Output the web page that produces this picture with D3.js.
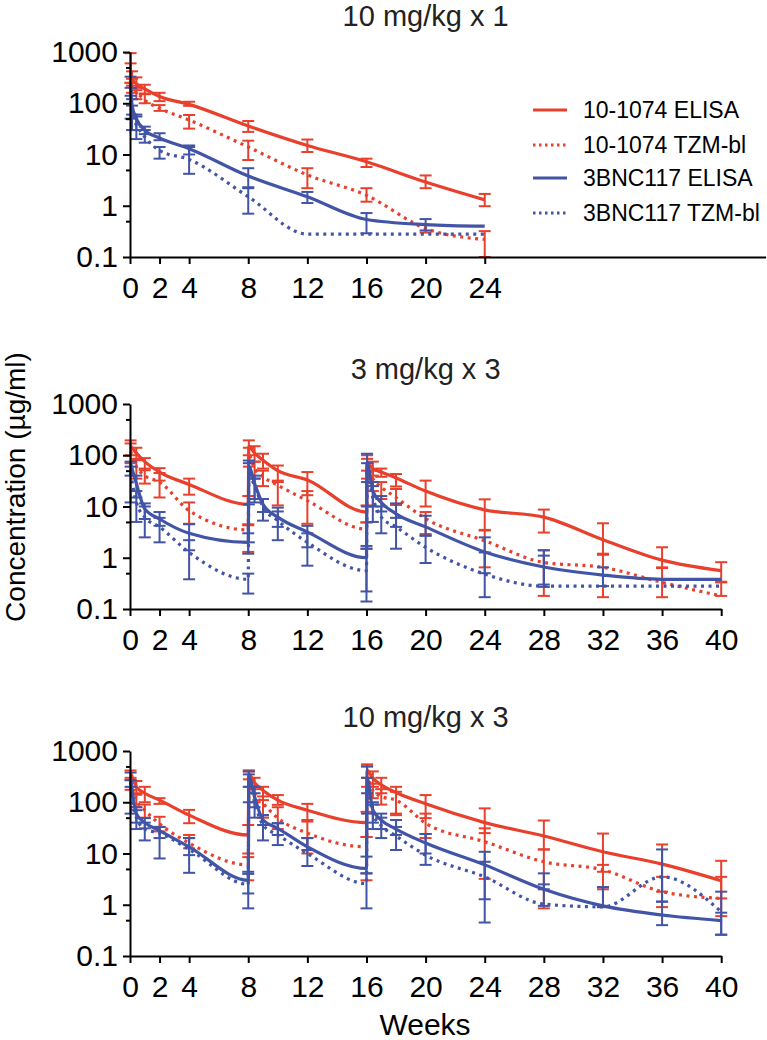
<!DOCTYPE html>
<html>
<head>
<meta charset="utf-8">
<script src="https://cdn.jsdelivr.net/npm/d3@7"></script>
<style>
  body { margin: 0; background: #fff; }
  text { font-family: 'Liberation Sans', Arial, sans-serif; }
</style>
</head>
<body>
<svg id="chart" width="767" height="1040"></svg>
<script>
// ---- data (ug/ml) ----
const seriesNames = ['10-1074 ELISA', '10-1074 TZM-bl', '3BNC117 ELISA', '3BNC117 TZM-bl'];
const panelTitles = ['10 mg/kg x 1', '3 mg/kg x 3', '10 mg/kg x 3'];

const weeksSingle = [0.04, 0.14, 0.43, 1, 2, 4, 8, 12, 16, 20, 24];
const weeksTriple = [0.04, 0.43, 1, 2, 4, 8, 8.04, 8.43, 9, 10, 12, 16, 16.04, 16.43, 17, 18, 20, 24, 28, 32, 36, 40];
const ticksSingle = [0, 2, 4, 8, 12, 16, 20, 24];
const ticksTriple = [0, 2, 4, 8, 12, 16, 20, 24, 28, 32, 36, 40];
const yTicks = [0.1, 1, 10, 100, 1000];
const yMinorTicks = [0.5, 5, 50, 500];

// 10 mg/kg x 1
const single1074Elisa   = [450, 300, 240, 190, 135, 95, 36, 15, 7.2, 2.9, 1.3];
const single1074ElisaLo = [250, 220, 180, 150, 110, 89, 27.6, 11.2, 5.7, 2.2, 0.98];
const single1074ElisaHi = [950, 420, 320, 230, 160, 107, 45, 19.6, 8.3, 3.9, 1.7];
const single1074Tzm     = [350, 220, 170, 115, 80, 47, 14, 4, 1.6, 0.36, 0.22];
const single1074TzmLo   = [250, 160, 120, 100, 71, 32, 7.8, 2.2, 1.2, 0.3, 0.1];
const single1074TzmHi   = [600, 300, 200, 155, 92, 59, 18.6, 5.4, 2.2, 0.42, 0.32];
const single117Elisa    = [240, 90, 50, 30, 21, 13, 3.8, 1.5, 0.54, 0.43, 0.4];
const single117ElisaLo  = [140, 60, 30, 25, 19, 10, 2.3, 1.13, 0.29, 0.33, null];
const single117ElisaHi  = [330, 120, 60, 35, 26, 15, 5.4, 1.86, 0.72, 0.55, null];
const single117Tzm      = [110, 60, 38, 22, 12, 8, 1.5, 0.28, 0.28, 0.28, 0.28];
const single117TzmLo    = [50, 30, 20, 17, 8.3, 4.2, 0.7, null, null, null, null];
const single117TzmHi    = [200, 90, 55, 30, 14, 14, 2.2, null, null, null, null];

// 3 mg/kg x 3
const low1074Elisa   = [150, 110, 75, 47, 27, 11, 150, 110, 80, 50, 33, 7.8, 70, 55, 47, 36, 20, 8.6, 6.2, 2.25, 0.9, 0.56];
const low1074ElisaLo = [100, 80, 51, 32, 17, 4.3, 100, 75, 55, 32, 16.6, 4.9, 50, 40, 38, 24.6, 10, 3.4, 3.1, 1.14, 0.63, 0.34];
const low1074ElisaHi = [195, 140, 88, 56, 35, 16, 195, 150, 107, 63, 47, 10.5, 100, 75, 55, 43, 32, 13.8, 8.7, 4.7, 1.6, 0.82];
const low1074Tzm     = [120, 60, 40, 30, 8.3, 3.5, 100, 55, 38, 26, 13, 3.6, 60, 35, 24, 15, 5.8, 2.15, 0.81, 0.65, 0.33, 0.18];
const low1074TzmLo   = [70, 35, 28, 15, 4.6, 1.3, 60, 35, 25, 10.5, 4.6, 1.5, 35, 20, 14, 10.7, 2.9, 0.65, 0.18, 0.17, 0.17, 0.18];
const low1074TzmHi   = [170, 85, 55, 45, 12, 4.5, 140, 75, 50, 30, 20, 4.9, 85, 50, 30, 22, 7.8, 3.5, 1.4, 1.2, 0.65, 0.33];
const low117Elisa    = [70, 28, 9, 5.7, 3, 2, 60, 28, 11, 6.2, 3.2, 1.0, 70, 20, 12, 7.2, 4, 1.3, 0.66, 0.46, 0.38, 0.38];
const low117ElisaLo  = [40, 15, 5.7, 4.2, 1.4, 1.2, 11, 14, 7.8, 4, 1.6, 0.22, 30, 10, 8, 4, 2.7, 0.5, 0.3, 0.28, null, null];
const low117ElisaHi  = [75, 40, 11.5, 7.8, 4.5, 3, 79, 40, 14, 9.5, 4.2, 1.7, 107, 30, 16, 11.5, 6.6, 2.5, 1.4, 0.65, null, null];
const low117Tzm      = [45, 12, 6.2, 4, 1.27, 0.38, 45, 25, 9.8, 5.3, 2, 0.56, 50, 15, 6.2, 4, 1.6, 0.48, 0.28, 0.28, 0.28, 0.28];
const low117TzmLo    = [12, 5, 2.5, 2, 0.38, 0.2, 2, 12, 5.3, 2.2, 0.7, 0.14, 10, 5, 3, 1.5, 0.79, 0.17, 0.27, null, null, null];
const low117TzmHi    = [60, 20, 10, 6, 2.2, 0.49, 70, 35, 14, 8, 3, 1.5, 70, 25, 10, 6, 2.7, 1.27, 1.1, null, null, null];

// 10 mg/kg x 3
const high1074Elisa   = [380, 200, 150, 110, 56, 23, 350, 240, 170, 110, 70, 40, 420, 295, 218, 155, 93, 40, 22, 10.8, 6.2, 2.95];
const high1074ElisaLo = [270, 150, 100, 93, 39, 10, 280, 180, 110, 89, 42, 21, 300, 200, 150, 56, 49, 25, 12, 4.4, 1.8, 1.33];
const high1074ElisaHi = [417, 260, 200, 120, 71, 36, 420, 300, 200, 138, 93, 65, 550, 400, 300, 200, 138, 76, 44, 24.5, 15, 7.2];
const high1074Tzm     = [250, 110, 70, 38, 16, 6, 300, 150, 96, 49, 25, 13.5, 300, 170, 130, 110, 39, 17, 6.9, 4.8, 1.8, 1.33];
const high1074TzmLo   = [175, 80, 50, 27, 12.6, 3, 200, 100, 50, 30, 10, 3, 200, 120, 90, 60, 20, 3.2, 0.85, 2, 0.9, 0.6];
const high1074TzmHi   = [300, 140, 90, 52, 23, 8.5, 400, 200, 130, 80, 45, 21, 500, 230, 180, 160, 60, 31, 12, 6, 3.5, 3.5];
const high117Elisa    = [300, 60, 40, 28, 13.5, 3, 316, 128, 45, 31, 13.5, 5.1, 300, 71, 45, 30, 16, 6, 2, 0.95, 0.63, 0.49];
const high117ElisaLo  = [200, 40, 31, 20, 9.3, 1.66, 200, 80, 36, 23, 11.7, 4.1, 150, 40, 30, 23, 10, 1.28, 2, 0.9, 0.4, 0.26];
const high117ElisaHi  = [380, 80, 49, 33, 20, 4.4, 400, 200, 56, 39, 20, 8.7, 500, 100, 60, 45, 24, 10.8, 4.1, 2.2, 1.15, 0.7];
const high117Tzm      = [200, 50, 30, 25, 12, 2.5, 250, 100, 36, 23, 10, 2.6, 200, 60, 35, 22, 9.3, 3.5, 1.03, 0.91, 3.5, 0.73];
const high117TzmLo    = [60, 30, 18, 8, 4.2, 0.85, 100, 50, 18, 14.6, 5.7, 0.85, 60, 30, 20, 11.7, 6, 0.45, 0.95, 0.9, 1.15, 0.26];
const high117TzmHi    = [270, 70, 40, 33, 20, 4, 350, 150, 56, 39, 20, 4.1, 300, 90, 50, 33, 24, 6.9, 2.5, 2.2, 12, 1.8];

// ---- styling ----
const RED = '#e8402c';
const BLUE = '#4254a6';
const seriesColor = [RED, RED, BLUE, BLUE];
const seriesDash = [null, '3,4.5', null, '3,4.5'];

const svg = d3.select('#chart');
const xLeft = 130;
const pxPerWeek = 14.78;
const plotHeight = 205;

// One panel per dosing scheme
const panels = [
  { top: 52, title: panelTitles[0], titleY: 26, weeks: weeksSingle, ticks: ticksSingle, xMax: 43,
    series: [
      [single1074Elisa, single1074ElisaLo, single1074ElisaHi],
      [single1074Tzm, single1074TzmLo, single1074TzmHi],
      [single117Elisa, single117ElisaLo, single117ElisaHi],
      [single117Tzm, single117TzmLo, single117TzmHi]] },
  { top: 404, title: panelTitles[1], titleY: 379, weeks: weeksTriple, ticks: ticksTriple, xMax: 40,
    series: [
      [low1074Elisa, low1074ElisaLo, low1074ElisaHi],
      [low1074Tzm, low1074TzmLo, low1074TzmHi],
      [low117Elisa, low117ElisaLo, low117ElisaHi],
      [low117Tzm, low117TzmLo, low117TzmHi]] },
  { top: 751, title: panelTitles[2], titleY: 727, weeks: weeksTriple, ticks: ticksTriple, xMax: 40,
    series: [
      [high1074Elisa, high1074ElisaLo, high1074ElisaHi],
      [high1074Tzm, high1074TzmLo, high1074TzmHi],
      [high117Elisa, high117ElisaLo, high117ElisaHi],
      [high117Tzm, high117TzmLo, high117TzmHi]] }
];

const renderPanel = p => {
  const x = d3.scaleLinear().domain([0, p.xMax]).range([xLeft, xLeft + p.xMax * pxPerWeek]);
  const y = d3.scaleLog().domain([0.1, 1000]).range([p.top + plotHeight, p.top]);

  // title
  svg.append('text')
    .attr('x', x(20)).attr('y', p.titleY)
    .attr('text-anchor', 'middle')
    .attr('font-size', 29)
    .attr('fill', '#222')
    .text(p.title);

  // series: error bars then lines
  p.series.forEach((s, si) => {
    const [vals, lo, hi] = s;
    const g = svg.append('g').attr('stroke', seriesColor[si]).attr('fill', 'none');
    p.weeks.forEach((w, i) => {
      if (lo[i] == null) return;
      const cx = x(w);
      g.append('line').attr('x1', cx).attr('x2', cx).attr('y1', y(lo[i])).attr('y2', y(hi[i]))
        .attr('stroke-width', 2);
      [lo[i], hi[i]].forEach(v => {
        g.append('line').attr('x1', cx - 6).attr('x2', cx + 6).attr('y1', y(v)).attr('y2', y(v))
          .attr('stroke-width', 2);
      });
    });
    const line = d3.line()
      .x((d, i) => x(p.weeks[i]))
      .y(d => y(d))
      .curve(d3.curveMonotoneX);
    g.append('path').datum(vals)
      .attr('d', line)
      .attr('stroke-width', 3.2)
      .attr('stroke-dasharray', seriesDash[si]);
  });

  // y axis, major + minor ticks
  const yAxisG = svg.append('g').attr('transform', `translate(${xLeft},0)`)
    .call(d3.axisLeft(y).tickValues(yTicks).tickFormat(d3.format('~g'))
      .tickSize(7).tickSizeOuter(0).tickPadding(5));
  svg.append('g').attr('transform', `translate(${xLeft},0)`)
    .call(d3.axisLeft(y).tickValues(yMinorTicks).tickFormat('').tickSize(4).tickSizeOuter(0))
    .select('.domain').remove();

  // x axis
  const xAxisG = svg.append('g').attr('transform', `translate(0,${p.top + plotHeight})`)
    .call(d3.axisBottom(x).tickValues(p.ticks).tickSize(7).tickSizeOuter(0).tickPadding(13));

  [yAxisG, xAxisG].forEach(a => {
    a.attr('font-size', 30).attr('font-family', "'Liberation Sans', Arial, sans-serif");
    a.selectAll('text').attr('fill', '#000');
  });
  svg.selectAll('.domain, .tick line').attr('stroke', '#000').attr('stroke-width', 2);
};

panels.forEach(renderPanel);

// y axis label
svg.append('text')
  .attr('transform', 'translate(25,487) rotate(-90)')
  .attr('text-anchor', 'middle')
  .attr('font-size', 28)
  .text('Concentration (µg/ml)');

// x axis label
svg.append('text')
  .attr('x', 425).attr('y', 1035)
  .attr('text-anchor', 'middle')
  .attr('font-size', 30)
  .text('Weeks');

// legend
const legend = svg.append('g');
seriesNames.forEach((name, i) => {
  const ly = [110, 145, 178, 213][i];
  legend.append('line')
    .attr('x1', 533).attr('x2', 567).attr('y1', ly).attr('y2', ly)
    .attr('stroke', seriesColor[i]).attr('stroke-width', 3)
    .attr('stroke-dasharray', seriesDash[i] ? '2.5,3.5' : null);
  legend.append('text')
    .attr('x', 583).attr('y', ly + 8)
    .attr('font-size', 23)
    .text(name);
});
</script>
</body>
</html>
